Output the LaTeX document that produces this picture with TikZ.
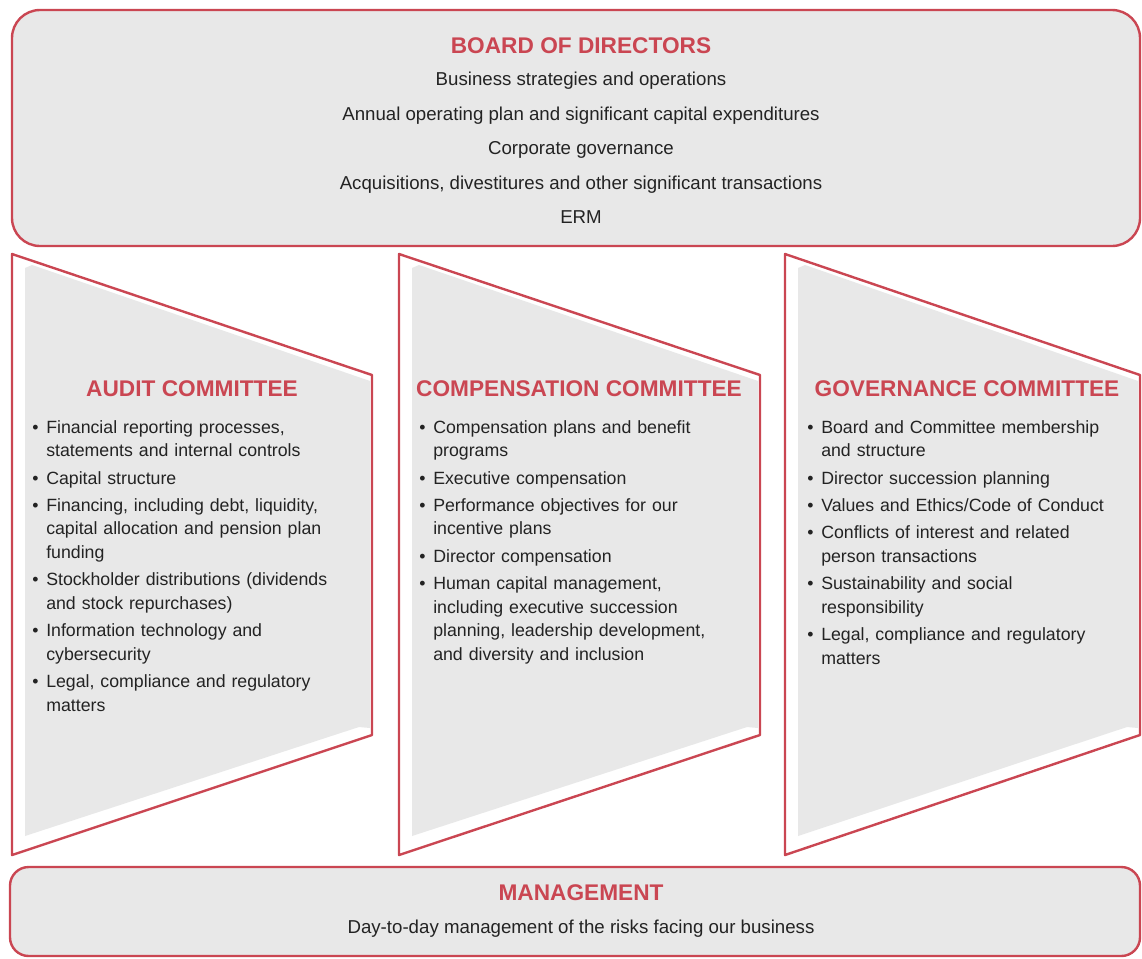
\documentclass[tikz,border=0pt]{standalone}
\usepackage{fontspec}
\setmainfont{Liberation Sans}
\usetikzlibrary{calc}

\definecolor{riskred}{RGB}{202,70,82}
\definecolor{riskgray}{RGB}{232,232,232}
\definecolor{risktext}{RGB}{35,35,35}

\newcommand{\bitem}[1]{\noindent\hangindent=10.5pt\hangafter=1\makebox[10.5pt][l]{\textbullet}#1\par\vspace{2.6pt}}

\begin{document}
\begin{tikzpicture}[x=0.75pt,y=-0.75pt]
        \tikzstyle{redframe}=[draw=riskred,line width=1.8pt,line join=round]
        \tikzstyle{headtext}=[text=riskred,font=\fontsize{17}{20}\selectfont\bfseries,inner sep=0pt,anchor=base]
        \tikzstyle{bodytext}=[text=risktext,font=\fontsize{14}{17}\selectfont,inner sep=0pt,anchor=base]
        \tikzstyle{listtext}=[text=risktext,font=\fontsize{13.3}{17.8}\selectfont,inner sep=0pt,anchor=north west,text width=270pt,align=left]

            \useasboundingbox (0,0) rectangle (1142,958);

            % board and management
            \draw[redframe,fill=riskgray,rounded corners=21pt] (12,10) rectangle (1140,246);
            \draw[redframe,fill=riskgray,rounded corners=14pt] (10,867) rectangle (1140,956);

            % committee panels
            \foreach \x/\w in {12/360,399/361,785/355}{
                \draw[redframe,fill=white] (\x,254) -- (\x+\w,375) -- (\x+\w,735) -- (\x,855) -- cycle;
                \fill[riskgray] (\x+13,268) -- (\x+20,265) -- (\x+\w-2,381) -- (\x+\w-2,728) -- (\x+\w-13,727) -- (\x+13,836) -- cycle;
            }

            \node[headtext] (BD) at (581,53) {BOARD OF DIRECTORS};
            \foreach \t [count=\i] in {Business strategies and operations,
                Annual operating plan and significant capital expenditures,
                Corporate governance,
                {Acquisitions, divestitures and other significant transactions},
                ERM}
                \node[bodytext] (B\i) at ($(BD.base)+(0,{32.5+34.5*(\i-1)})$) {\t};

            \node[headtext] (AC) at (192,396) {AUDIT COMMITTEE};
            \node[headtext] (CC) at (579,396) {COMPENSATION COMMITTEE};
            \node[headtext] (GC) at (967,396) {GOVERNANCE COMMITTEE};

            \node[listtext] (AL) at (32,420) {
                \bitem{Financial reporting processes,\newline statements and internal controls}
                \bitem{Capital structure}
                \bitem{Financing, including debt, liquidity,\newline capital allocation and pension plan\newline funding}
                \bitem{Stockholder distributions (dividends\newline and stock repurchases)}
                \bitem{Information technology and\newline cybersecurity}
                \bitem{Legal, compliance and regulatory\newline matters}};
            \node[listtext] (CL) at (419,420) {
                \bitem{Compensation plans and benefit\newline programs}
                \bitem{Executive compensation}
                \bitem{Performance objectives for our\newline incentive plans}
                \bitem{Director compensation}
                \bitem{Human capital management,\newline including executive succession\newline planning, leadership development,\newline and diversity and inclusion}};
            \node[listtext] (GL) at (807,420) {
                \bitem{Board and Committee membership\newline and structure}
                \bitem{Director succession planning}
                \bitem{Values and Ethics/Code of Conduct}
                \bitem{Conflicts of interest and related\newline person transactions}
                \bitem{Sustainability and social\newline responsibility}
                \bitem{Legal, compliance and regulatory\newline matters}};

            \node[headtext] (MG) at (581,900) {MANAGEMENT};
            \node[bodytext] (M1) at ($(MG.base)+(0,33.5)$) {Day-to-day management of the risks facing our business};

        \end{tikzpicture}
\end{document}
